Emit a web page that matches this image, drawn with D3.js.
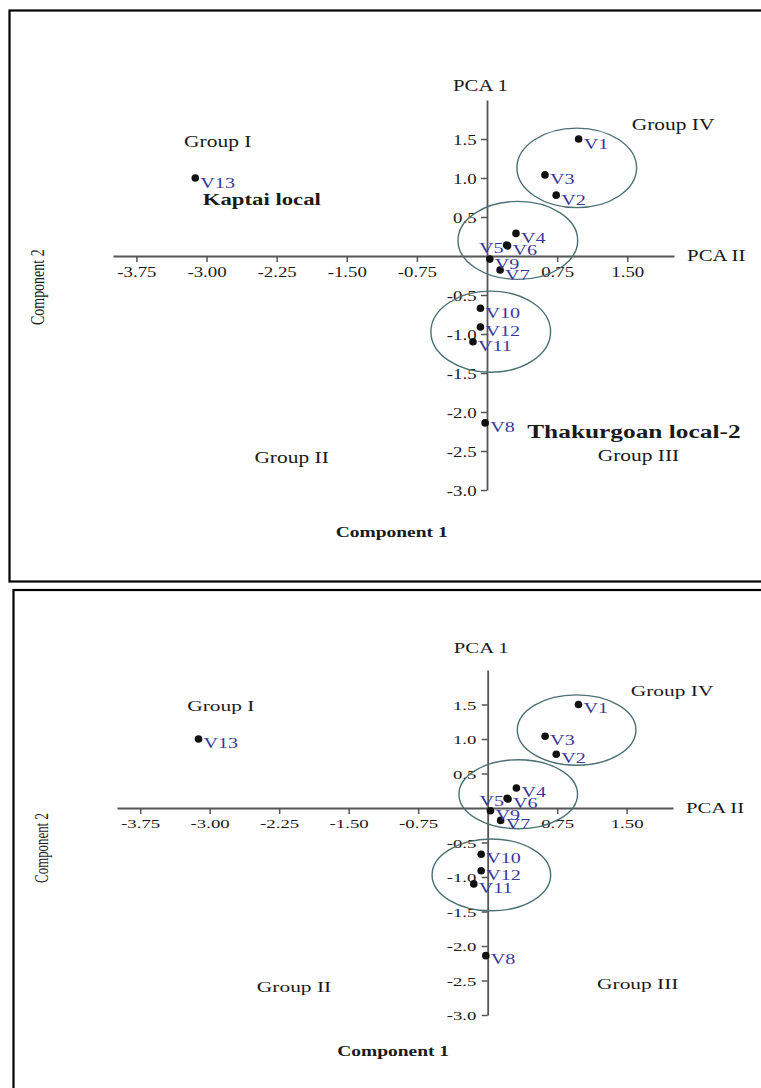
<!DOCTYPE html>
<html>
<head>
<meta charset="utf-8">
<script src="https://cdn.jsdelivr.net/npm/d3@7"></script>
<style>
  body { margin: 0; background: #fff; }
  svg { display: block; }
</style>
</head>
<body>
<div id="chart"></div>
<script>
// PCA scores
const varieties = ["V1", "V2", "V3", "V4", "V5", "V6", "V7", "V8", "V9", "V10", "V11", "V12", "V13"];
const comp1 = [0.98, 0.74, 0.62, 0.31, 0.21, 0.22, 0.14, -0.02, 0.03, -0.07, -0.15, -0.07, -3.12];
const comp2 = [1.5, 0.78, 1.04, 0.29, 0.14, 0.13, -0.18, -2.14, -0.04, -0.67, -1.1, -0.91, 1.0];

const xTicks = [-3.75, -3.0, -2.25, -1.5, -0.75, 0.75, 1.5];
const yTicks = [1.5, 1.0, 0.5, -0.5, -1.0, -1.5, -2.0, -2.5, -3.0];

// cluster rings (centre / radii in score units)
const ringCx = [0.96, 0.33, 0.04];
const ringCy = [1.13, 0.2, -0.97];
const ringRx = [0.64, 0.64, 0.64];
const ringRy = [0.51, 0.5, 0.52];

// group captions, placed in score units
const groupNames = ["Group I", "Group II", "Group III", "Group IV"];
const groupX = [-2.88, -2.09, 1.62, 1.99];
const groupY = [1.4, -2.66, -2.63, 1.62];

const width = 761;
const height = 1088;
const serif = "'Liberation Serif', 'Times New Roman', serif";

const svg = d3
  .select("#chart")
  .append("svg")
  .attr("width", width)
  .attr("height", height);

const points = varieties.map((v, i) => ({ name: v, c1: comp1[i], c2: comp2[i] }));

function drawPanel(p) {
  const g = svg.append("g");

  // frame (runs off the right edge like the source scan)
  g.append("rect")
    .attr("x", p.frameX)
    .attr("y", p.frameY)
    .attr("width", p.frameW)
    .attr("height", p.frameH)
    .attr("fill", "none")
    .attr("stroke", "#000")
    .attr("stroke-width", 2.2);

  const x = d3.scaleLinear().domain([-4, 2]).range(p.xRange);
  const y = d3.scaleLinear().domain([-3, 2]).range(p.yRange);

  const txt = (s, px, py, size, opts = {}) =>
    g
      .append("text")
      .attr("transform", `translate(${px},${py}) scale(${p.sx},1)${opts.rotate ? " rotate(-90)" : ""}`)
      .attr("text-anchor", opts.anchor || "start")
      .attr("font-family", serif)
      .attr("font-size", size * p.k)
      .attr("font-weight", opts.bold ? 700 : 400)
      .attr("fill", opts.fill || "#1a1a1a")
      .text(s);

  // axes
  const xAxis = d3
    .axisBottom(x)
    .tickValues(xTicks)
    .tickFormat((d) => d.toFixed(2))
    .tickSize(6)
    .tickSizeOuter(0)
    .tickPadding(5);

  const yAxis = d3
    .axisLeft(y)
    .tickValues(yTicks)
    .tickFormat((d) => d.toFixed(1))
    .tickSize(6)
    .tickSizeOuter(0)
    .tickPadding(2);

  const gx = g.append("g").attr("transform", `translate(0,${y(0)})`).call(xAxis);
  const gy = g.append("g").attr("transform", `translate(${x(0)},0)`).call(yAxis);

  [gx, gy].forEach((a) => {
    a.attr("font-family", serif).attr("font-size", 14.5 * p.k);
    a.select(".domain").attr("stroke", "#555").attr("stroke-width", 1.8);
    a.selectAll(".tick line").attr("stroke", "#555").attr("stroke-width", 1.5);
    a.selectAll(".tick text").attr("fill", "#1a1a1a");
  });
  gx.selectAll(".tick text").attr("transform", `scale(${p.sx},1)`);
  gy.selectAll(".tick text").attr("transform", `scale(${p.sx},1)`).attr("dy", "0.35em");

  // cluster rings
  g.selectAll("ellipse")
    .data(ringCx)
    .join("ellipse")
    .attr("cx", (d) => x(d))
    .attr("cy", (d, i) => y(ringCy[i]))
    .attr("rx", (d, i) => x(ringRx[i]) - x(0))
    .attr("ry", (d, i) => y(0) - y(ringRy[i]))
    .attr("fill", "none")
    .attr("stroke", "#4a7075")
    .attr("stroke-width", 1.4);

  // varieties
  g.selectAll("circle")
    .data(points)
    .join("circle")
    .attr("cx", (d) => x(d.c1))
    .attr("cy", (d) => y(d.c2))
    .attr("r", 3.8)
    .attr("fill", "#111");

  g.selectAll("text.var")
    .data(points)
    .join("text")
    .attr("class", "var")
    .attr("transform", (d) =>
      d.name === "V5"
        ? `translate(${x(d.c1) - 3},${y(d.c2) + 8 * p.k}) scale(${p.sx},1)`
        : `translate(${x(d.c1) + 5},${y(d.c2) + 9.5 * p.k}) scale(${p.sx},1)`
    )
    .attr("text-anchor", (d) => (d.name === "V5" ? "end" : "start"))
    .attr("font-family", serif)
    .attr("font-size", 15.5 * p.k)
    .attr("fill", "#38389c")
    .text((d) => d.name);

  // captions
  groupNames.forEach((s, i) => txt(s, x(groupX[i]), y(groupY[i]), 16.5, { anchor: "middle" }));
  txt("PCA 1", x(-0.07), y(p.pcaY), 16, { anchor: "middle" });
  txt("PCA II", x(2.14), y(0) + 5, 16);
  txt("Component 1", x(-1.02), y(-3.6), 15, { anchor: "middle", bold: true });
  txt("Component 2", x(-4.74), y(p.compY), 14, { anchor: "middle", rotate: true });

  if (p.notes) {
    txt("Kaptai local", x(-3.04), y(0.65), 17.5, { bold: true });
    txt("Thakurgoan local-2", x(0.43), y(-2.33), 19.5, { bold: true });
  }
}

drawPanel({
  frameX: 9.5, frameY: 10.5, frameW: 800, frameH: 571,
  xRange: [113, 674], yRange: [490, 100],
  k: 1, sx: 1.3, pcaY: 2.12, compY: -0.4, notes: true
});

drawPanel({
  frameX: 13.5, frameY: 590, frameW: 800, frameH: 560,
  xRange: [117, 673], yRange: [1015, 670],
  k: 0.92, sx: 1.41, pcaY: 2.25, compY: -0.58, notes: false
});
</script>
</body>
</html>
